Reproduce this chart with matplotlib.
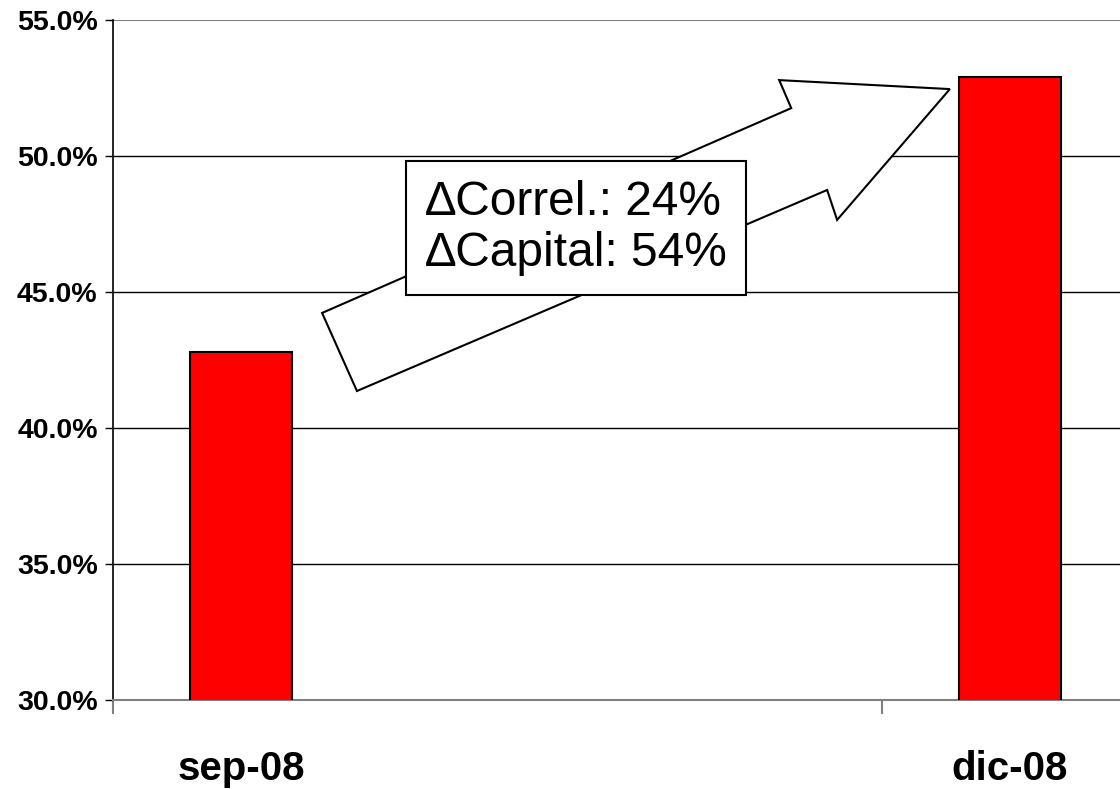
import matplotlib
matplotlib.use("Agg")
import matplotlib.pyplot as plt
from matplotlib.patches import Polygon

# data
positions = [0, 3]              # sep-08 .. dic-08 on a monthly category axis
categories = ["sep-08", "dic-08"]
values = [42.8, 52.9]
y_ticks = [30, 35, 40, 45, 50, 55]
y_labels = ["30.0%", "35.0%", "40.0%", "45.0%", "50.0%", "55.0%"]
box_text = "\u2206Correl.: 24%\n\u2206Capital: 54%"

# block arrow outline (data coords)
arrow_x = [0.316, 2.147, 2.100, 2.766, 2.326, 2.287, 0.452]
arrow_y = [44.23, 51.76, 52.79, 52.46, 47.65, 48.75, 41.36]

plt.rcParams['font.family'] = ['Liberation Sans', 'DejaVu Sans']

fig = plt.figure(figsize=(11.2, 7.89), dpi=100, facecolor='white')
ax = fig.add_axes([113/1120, 1 - 700/789, 1 - 113/1120, 680/789])

ax.bar(positions, values, width=0.4, bottom=0, color='#ff0000',
       edgecolor='black', linewidth=1.5, zorder=3)

ax.set_xlim(-0.495, 3.43)
ax.set_ylim(30, 55)

# gridlines
for v in y_ticks[1:-1]:
    ax.axhline(v, color='black', linewidth=1, zorder=1)
ax.axhline(55, color='#808080', linewidth=1.5, zorder=1)

ax.spines['right'].set_visible(False)
ax.spines['top'].set_visible(False)
ax.spines['left'].set_color('black')
ax.spines['left'].set_linewidth(1.2)
ax.spines['bottom'].set_color('#808080')
ax.spines['bottom'].set_linewidth(1.5)

ax.set_yticks(y_ticks)
ax.set_yticklabels(y_labels, fontsize=20.5, fontweight='bold')
ax.tick_params(axis='y', length=6, width=1, color='black', pad=5)

ax.set_xticks(positions)
ax.set_xticklabels(categories, fontsize=29, fontweight='bold')
ax.set_xticks([-0.5, 2.5], minor=True)
ax.tick_params(axis='x', which='major', length=0, pad=36)
ax.tick_params(axis='x', which='minor', length=10, width=1.5, color='#808080')

arrow = Polygon(list(zip(arrow_x, arrow_y)), closed=True, facecolor='white',
                edgecolor='black', linewidth=1.5, zorder=4)
ax.add_patch(arrow)

ax.text(0.72, 47.35, box_text, fontsize=34.5, ha='left', va='center',
        linespacing=1.15, zorder=5,
        bbox=dict(boxstyle='square,pad=0.4', facecolor='white',
                  edgecolor='black', linewidth=1.5))

fig.savefig("out.png", dpi=100, facecolor='white')
